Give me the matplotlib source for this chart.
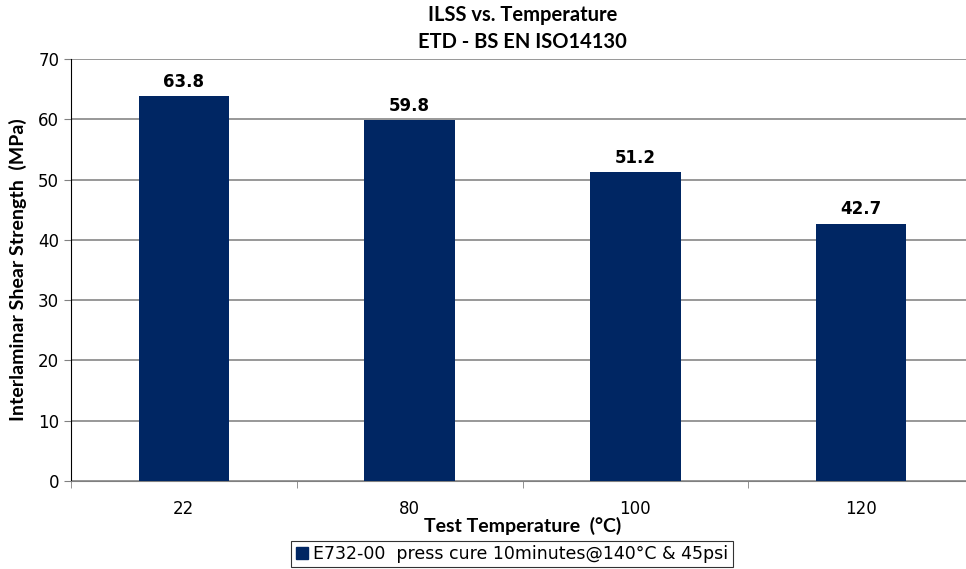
import matplotlib
matplotlib.use("Agg")
import matplotlib.pyplot as plt
from matplotlib.patches import Patch
import numpy as np

categories = ["22", "80", "100", "120"]
ilss = [63.8, 59.8, 51.2, 42.7]
series_name = "E732-00  press cure 10minutes@140°C & 45psi"

BAR = "#002663"
LABEL_FONT = ["Lato", "DejaVu Sans"]

fig = plt.figure(figsize=(9.66, 5.69), dpi=100)
ax = fig.add_axes([71 / 966, 1 - 481 / 569, 903 / 966, 422 / 569])

x = np.arange(len(categories))
ax.bar(x, ilss, width=0.4, color=BAR, zorder=3)
for xi, v in zip(x, ilss):
    ax.text(xi, v + 0.9, f"{v:.1f}", ha="center", va="bottom",
            fontsize=12, fontweight="bold", family="DejaVu Sans")

ax.set_xlim(-0.5, len(categories) - 0.5)
ax.set_ylim(0, 70)
ax.set_yticks(range(0, 71, 10))
ax.yaxis.grid(True, color="#868686", linewidth=1.2, zorder=0)
ax.set_xticks(x)
ax.set_xticklabels(categories, fontsize=12, family="DejaVu Sans")
ax.set_xticks(np.arange(-0.5, len(categories)), minor=True)
ax.tick_params(axis="x", which="major", length=0, pad=14)
ax.tick_params(axis="x", which="minor", length=5, direction="out", color="#808080")
ax.tick_params(axis="y", length=5, direction="out", labelsize=12, color="#808080")
for lab in ax.get_yticklabels():
    lab.set_family("DejaVu Sans")

for side in ["top", "right"]:
    ax.spines[side].set_visible(False)
ax.spines["left"].set_color("black")
ax.spines["bottom"].set_color("#808080")

ax.set_xlabel("Test Temperature  (°C)", fontsize=14, fontweight="bold",
              family=LABEL_FONT, labelpad=-1)
ax.set_ylabel("Interlaminar Shear Strength  (MPa)", fontsize=14,
              fontweight="bold", family=LABEL_FONT, labelpad=8)
ax.set_title("ILSS vs. Temperature\nETD - BS EN ISO14130", fontsize=14.5,
             fontweight="bold", family=LABEL_FONT, pad=8, linespacing=1.45)

handle = Patch(facecolor=BAR, edgecolor=BAR)
leg = fig.legend([handle], [series_name], loc="center",
                 bbox_to_anchor=(512 / 966, 1 - 554 / 569), frameon=True,
                 fancybox=False, edgecolor="black", handlelength=0.7,
                 handleheight=0.7, handletextpad=0.3, borderpad=0.25,
                 borderaxespad=0, prop={"family": "DejaVu Sans", "size": 12.5})
leg.get_frame().set_linewidth(0.8)

fig.savefig("out.png", dpi=100)
